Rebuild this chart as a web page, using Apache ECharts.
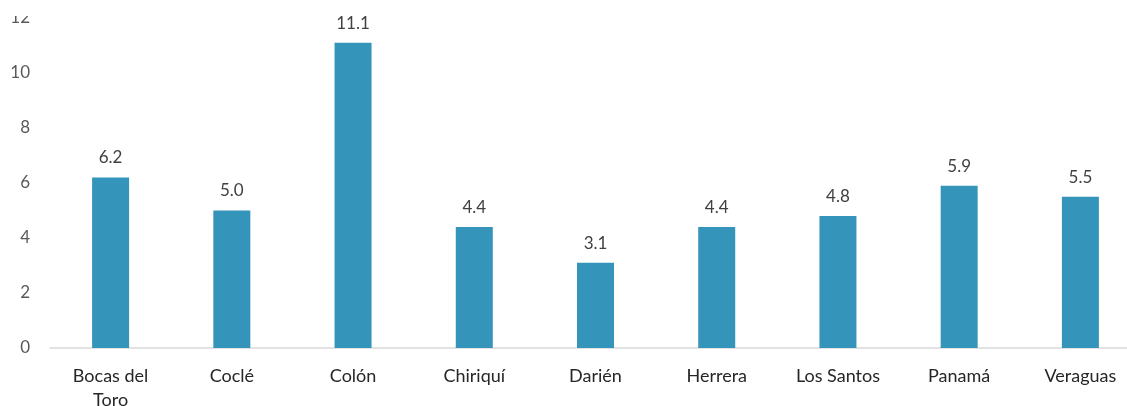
<!DOCTYPE html>
<html>
<head>
<meta charset="utf-8">
<script src="https://cdn.jsdelivr.net/npm/echarts@6/dist/echarts.min.js"></script>
<style>
  html, body { margin: 0; padding: 0; background: #ffffff; }
  #chart { width: 1127px; height: 406px; }
</style>
</head>
<body>
<div id="chart"></div>
<script>
// Provinces of Panamá and their values
const categories = ['Bocas del\nToro', 'Coclé', 'Colón', 'Chiriquí', 'Darién', 'Herrera', 'Los Santos', 'Panamá', 'Veraguas'];
const values = [6.2, 5.0, 11.1, 4.4, 3.1, 4.4, 4.8, 5.9, 5.5];
const yTicks = { min: 0, max: 12, interval: 2 };

const chart = echarts.init(document.getElementById('chart'), null, { renderer: 'canvas' });

chart.setOption({
  animation: false,
  textStyle: { fontFamily: 'Lato, "Open Sans", sans-serif' },
  grid: {
    left: 50, top: 18, right: -14, height: 330,
    containLabel: false,
    outerBoundsMode: 'none'
  },
  // the top edge of the page trims the uppermost tick label
  graphic: [{
    type: 'rect',
    left: 0, top: 0, z: 100,
    shape: { width: 45, height: 16 },
    style: { fill: '#ffffff' },
    silent: true
  }],
  xAxis: {
    type: 'category',
    data: categories,
    axisLine: { lineStyle: { color: '#d9d9d9', width: 1.5 } },
    axisTick: { show: false },
    axisLabel: {
      color: '#262626',
      fontSize: 18,
      lineHeight: 24,
      margin: 16,
      interval: 0
    }
  },
  yAxis: {
    type: 'value',
    min: yTicks.min,
    max: yTicks.max,
    interval: yTicks.interval,
    axisLine: { show: false },
    axisTick: { show: false },
    splitLine: { show: false },
    axisLabel: { color: '#595959', fontSize: 17, margin: 20 }
  },
  series: [{
    type: 'bar',
    data: values,
    barWidth: 37,
    itemStyle: { color: '#3494ba' },
    label: {
      show: true,
      position: 'top',
      distance: 11,
      color: '#404040',
      fontSize: 17,
      formatter: p => p.value.toFixed(1)
    }
  }]
});
</script>
</body>
</html>
